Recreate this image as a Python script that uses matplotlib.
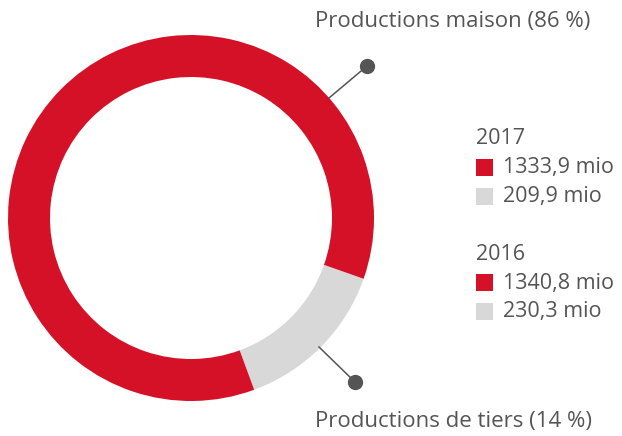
import matplotlib
matplotlib.use("Agg")
import matplotlib.pyplot as plt

# data
categories = ["Productions maison", "Productions de tiers"]
shares = [86, 14]
years = ["2017", "2016"]
values_2017 = [1333.9, 209.9]
values_2016 = [1340.8, 230.3]

red = "#d51128"
grey = "#d8d8d8"
txt = "#555555"

plt.rcParams['font.family'] = ['Open Sans', 'DejaVu Sans']

W, H = 622, 436
fig = plt.figure(figsize=(W / 100, H / 100), dpi=100)
ax = fig.add_axes([0, 0, 1, 1])

# grey wedge first so it sits at the lower right
ax.pie([shares[1], shares[0]], colors=[grey, red], center=(191, H - 218),
       radius=183, startangle=-69.8, counterclock=True,
       wedgeprops=dict(width=42, linewidth=0))

ax.set_xlim(0, W)
ax.set_ylim(0, H)
ax.set_aspect("equal")
ax.axis("off")

# leader lines
ax.plot([329, 367], [H - 98, H - 66], color="#555555", lw=1.1)
ax.plot(367, H - 66, "o", color="#555555", ms=10)
ax.plot([319, 355], [H - 347, H - 382], color="#555555", lw=1.1)
ax.plot(355, H - 382, "o", color="#555555", ms=10)

ax.text(315, H - 22, "%s (%d %%)" % (categories[0], shares[0]), fontsize=16,
        color=txt, va="center", ha="left")
ax.text(315, H - 422, "%s (%d %%)" % (categories[1], shares[1]), fontsize=16,
        color=txt, va="center", ha="left")

def fmt(v):
    return ("%.1f" % v).replace(".", ",") + " mio"

# legend block
y0 = 139
for yr, vals in zip(years, [values_2017, values_2016]):
    ax.text(476, H - y0, yr, fontsize=15.5, color=txt, va="center", ha="left")
    for k, (v, c) in enumerate(zip(vals, [red, grey])):
        yy = y0 + 29 * (k + 1)
        ax.add_patch(plt.Rectangle((476, H - yy - 8.5), 17, 17, color=c, lw=0))
        ax.text(503, H - yy, fmt(v), fontsize=15.5, color=txt, va="center", ha="left")
    y0 += 115

fig.savefig("out.png", dpi=100)
